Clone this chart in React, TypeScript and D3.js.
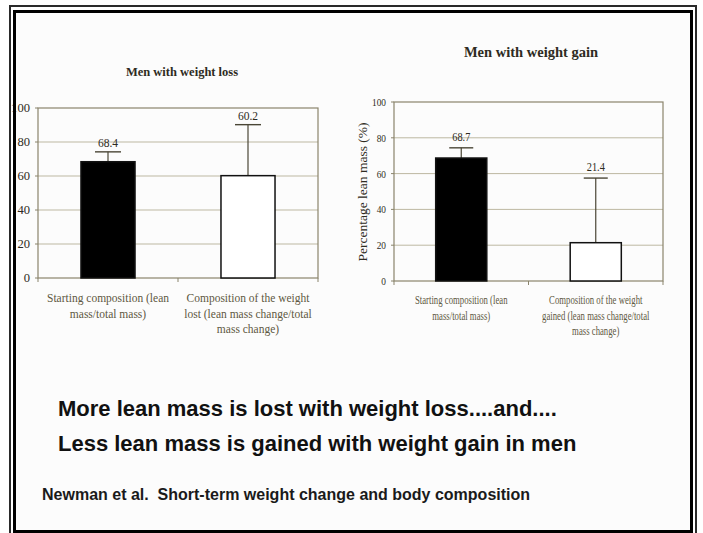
import React from "react";
import * as d3 from "d3";

// ---------- data ----------
const yTicks = [0, 20, 40, 60, 80, 100];
const lossTitle = "Men with weight loss";
const gainTitle = "Men with weight gain";
const lossCategories = [
  ["Starting composition (lean", "mass/total mass)"],
  ["Composition of the weight", "lost (lean mass change/total", "mass change)"],
];
const gainCategories = [
  ["Starting composition (lean", "mass/total mass)"],
  ["Composition of the weight", "gained (lean mass change/total", "mass change)"],
];
const lossValues = [68.4, 60.2];
const lossErrorTops = [74.2, 90.2];
const gainValues = [68.7, 21.4];
const gainErrorTops = [74.4, 57.5];
const barFills = ["#000000", "#ffffff"];
const yAxisLabel = "Percentage lean mass (%)";
const headline1 = "More lean mass is lost with weight loss....and....";
const headline2 = "Less lean mass is gained with weight gain in men";
const citation = "Newman et al.  Short-term weight change and body composition";

// ---------- layout ----------
const W = 703;
const H = 533;
const SERIF = "'Liberation Serif', 'Times New Roman', serif";
const SANS = "'Liberation Sans', Arial, sans-serif";

type Layout = {
  left: number; right: number; top: number; bottom: number;
  barFrac: number; tickX: number; tickFont: number; tickSx: number;
  titleX: number; titleY: number; titleSize: number; titleSx: number;
  catY: number; catLine: number; catFont: number; catSx: number;
  valFont: number; valSx: number; valOff: number; capW: number;
  yLabel?: { x: number; y: number; size: number; sx: number };
};

const leftLayout: Layout = {
  left: 38, right: 318, top: 108, bottom: 278, barFrac: 0.386,
  tickX: 30, tickFont: 12, tickSx: 1.05,
  titleX: 182, titleY: 76, titleSize: 12.5, titleSx: 1,
  catY: 302, catLine: 15.5, catFont: 11.5, catSx: 1,
  valFont: 11.5, valSx: 1, valOff: 5, capW: 26,
};
const rightLayout: Layout = {
  left: 394, right: 663, top: 102, bottom: 281, barFrac: 0.38,
  tickX: 386, tickFont: 11, tickSx: 0.85,
  titleX: 531, titleY: 57, titleSize: 14.5, titleSx: 1,
  catY: 304, catLine: 15.5, catFont: 11.5, catSx: 0.76,
  valFont: 11.5, valSx: 0.9, valOff: 7, capW: 24,
  yLabel: { x: 362, y: 192, size: 13.5, sx: 1 },
};

const GRID = "#bdb8a2";
const BORDER = "#8a846c";
const TEXT_DARK = "#2e2b22";
const TEXT_MID = "#5e5842";

function Panel({ L, title, categories, values, errTops }: {
  L: Layout; title: string; categories: string[][]; values: number[]; errTops: number[];
}) {
  const y = d3.scaleLinear().domain([0, 100]).range([L.bottom, L.top]);
  const x = d3
    .scaleBand<string>()
    .domain(categories.map((_, i) => String(i)))
    .range([L.left, L.right])
    .padding(0);
  const bw = x.bandwidth() * L.barFrac;
  const boundaries = [L.left, ...categories.map((_, i) => (x(String(i)) as number) + x.bandwidth())];

  return (
    <g>
      <text
        transform={`translate(${L.titleX},${L.titleY}) scale(${L.titleSx},1)`}
        textAnchor="middle"
        fontFamily={SERIF}
        fontWeight="bold"
        fontSize={L.titleSize}
        fill={TEXT_DARK}
      >
        {title}
      </text>
      {yTicks.filter((t) => t > 0 && t < 100).map((t) => (
        <line key={"g" + t} x1={L.left} x2={L.right} y1={y(t)} y2={y(t)} stroke={GRID} strokeWidth={1} />
      ))}
      <rect x={L.left} y={L.top} width={L.right - L.left} height={L.bottom - L.top} fill="none" stroke={BORDER} strokeWidth={1.2} />
      {yTicks.map((t) => (
        <g key={"t" + t}>
          <line x1={L.left - 3} x2={L.left} y1={y(t)} y2={y(t)} stroke={BORDER} strokeWidth={1} />
          <text
            transform={`translate(${L.tickX},${y(t) + 4}) scale(${L.tickSx},1)`}
            textAnchor="end"
            fontFamily={SERIF}
            fontSize={L.tickFont}
            fill={TEXT_DARK}
          >
            {t}
          </text>
        </g>
      ))}
      {boundaries.map((bx, i) => (
        <line key={"xb" + i} x1={bx} x2={bx} y1={L.bottom} y2={L.bottom + 4} stroke={BORDER} strokeWidth={1} />
      ))}
      {values.map((v, i) => {
        const cx = (x(String(i)) as number) + x.bandwidth() / 2;
        const top = y(v);
        const et = y(errTops[i]);
        return (
          <g key={"b" + i}>
            <line x1={cx} x2={cx} y1={top} y2={et} stroke="#4a4636" strokeWidth={1.2} />
            <line x1={cx - L.capW / 2} x2={cx + L.capW / 2} y1={et} y2={et} stroke="#4a4636" strokeWidth={1.4} />
            <rect x={cx - bw / 2} y={top} width={bw} height={L.bottom - top} fill={barFills[i]} stroke="#111" strokeWidth={1.5} />
            <text
              transform={`translate(${cx},${et - L.valOff}) scale(${L.valSx},1)`}
              textAnchor="middle"
              fontFamily={SERIF}
              fontSize={L.valFont}
              fill={TEXT_DARK}
            >
              {v.toFixed(1)}
            </text>
          </g>
        );
      })}
      {categories.map((lines, i) => {
        const cx = (x(String(i)) as number) + x.bandwidth() / 2;
        return lines.map((ln, j) => (
          <text
            key={"c" + i + "-" + j}
            transform={`translate(${cx},${L.catY + j * L.catLine}) scale(${L.catSx},1)`}
            textAnchor="middle"
            fontFamily={SERIF}
            fontSize={L.catFont}
            fill={TEXT_MID}
          >
            {ln}
          </text>
        ));
      })}
      {L.yLabel && (
        <text
          transform={`translate(${L.yLabel.x},${L.yLabel.y}) rotate(-90) scale(${L.yLabel.sx},1)`}
          textAnchor="middle"
          dominantBaseline="central"
          fontFamily={SERIF}
          fontSize={L.yLabel.size}
          fill={TEXT_DARK}
        >
          {yAxisLabel}
        </text>
      )}
    </g>
  );
}

export default function App() {
  return (
    <svg
      width={W}
      height={H}
      viewBox={`0 0 ${W} ${H}`}
      style={{ position: "absolute", left: 0, top: 0, display: "block" }}
    >
      <rect x={0} y={0} width={W} height={H} fill="#ffffff" />
      <rect x={16} y={13} width={674} height={518} fill="#fcfcfc" />
      <Panel L={leftLayout} title={lossTitle} categories={lossCategories} values={lossValues} errTops={lossErrorTops} />
      <Panel L={rightLayout} title={gainTitle} categories={gainCategories} values={gainValues} errTops={gainErrorTops} />

      <text x={58} y={416} fontFamily={SANS} fontWeight="bold" fontSize={22} fill="#111">
        {headline1}
      </text>
      <text x={58} y={451} fontFamily={SANS} fontWeight="bold" fontSize={22} fill="#111">
        {headline2}
      </text>
      <text x={42} y={500} fontFamily={SANS} fontWeight="bold" fontSize={16} fill="#1a1a1a" style={{ whiteSpace: "pre" }}>
        {citation}
      </text>

      <rect x={10} y={6} width={686} height={540} fill="none" stroke="#2a2a2a" strokeWidth={2} />
      <rect x={14.5} y={11.5} width={677} height={520} fill="none" stroke="#000" strokeWidth={3} />
    </svg>
  );
}
